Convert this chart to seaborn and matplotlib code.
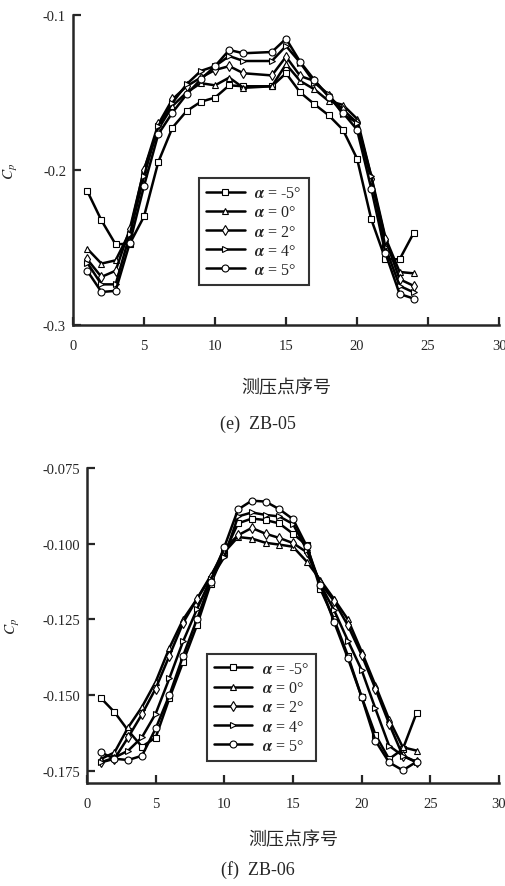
import numpy as np
import pandas as pd
import matplotlib
matplotlib.use('Agg')
import matplotlib.pyplot as plt
import seaborn as sns

# measurement points (point 13 has no reading on ZB-05)
x_top = [1, 2, 3, 4, 5, 6, 7, 8, 9, 10, 11, 12, 14, 15, 16, 17, 18, 19, 20, 21, 22, 23, 24]
x_bot = list(range(1, 25))

alpha_labels = [r'$\boldsymbol{\alpha}$ = -5°', r'$\boldsymbol{\alpha}$ = 0°', r'$\boldsymbol{\alpha}$ = 2°',
                r'$\boldsymbol{\alpha}$ = 4°', r'$\boldsymbol{\alpha}$ = 5°']
markers = ['s', '^', 'd', '>', 'o']

# (e) ZB-05
cp_e_m5 = [-0.2135, -0.2325, -0.248, -0.2475, -0.230, -0.195, -0.1727, -0.162, -0.156, -0.1533, -0.1454, -0.146,
           -0.146, -0.1376, -0.150, -0.1576, -0.1647, -0.174, -0.1927, -0.2318, -0.2576, -0.2576, -0.2404]
cp_e_0 = [-0.2508, -0.2604, -0.2583, -0.240, -0.1996, -0.1738, -0.1587, -0.150, -0.144, -0.1454, -0.1404, -0.147,
          -0.146, -0.1318, -0.1426, -0.148, -0.1555, -0.158, -0.167, -0.204, -0.2437, -0.2658, -0.2667]
cp_e_2 = [-0.2576, -0.269, -0.265, -0.238, -0.200, -0.1705, -0.1544, -0.146, -0.1404, -0.1355, -0.133, -0.1376,
          -0.139, -0.1269, -0.1394, -0.1426, -0.1523, -0.161, -0.1695, -0.206, -0.2447, -0.2705, -0.2748]
cp_e_4 = [-0.2598, -0.2738, -0.2738, -0.2415, -0.204, -0.1716, -0.1566, -0.1447, -0.1361, -0.133, -0.1265, -0.1297,
          -0.1297, -0.120, -0.1308, -0.1437, -0.1512, -0.164, -0.1695, -0.204, -0.250, -0.2748, -0.279]
cp_e_5 = [-0.265, -0.2787, -0.278, -0.247, -0.2103, -0.177, -0.163, -0.1512, -0.1415, -0.133, -0.1226, -0.1247,
          -0.1239, -0.1153, -0.1303, -0.142, -0.1527, -0.163, -0.174, -0.212, -0.2538, -0.280, -0.283]

# (f) ZB-06
cp_f_m5 = [-0.1509, -0.1556, -0.1617, -0.167, -0.164, -0.151, -0.139, -0.127, -0.1133, -0.103, -0.0933, -0.0917,
           -0.0922, -0.0933, -0.0967, -0.1005, -0.115, -0.125, -0.137, -0.1506, -0.163, -0.1711, -0.1678, -0.1559]
cp_f_0 = [-0.1711, -0.1689, -0.1606, -0.1539, -0.1456, -0.1344, -0.125, -0.1183, -0.1106, -0.1028, -0.0978, -0.0983,
          -0.0997, -0.1003, -0.101, -0.1059, -0.112, -0.1183, -0.125, -0.1356, -0.1467, -0.158, -0.1672, -0.1683]
cp_f_2 = [-0.1722, -0.171, -0.1639, -0.1563, -0.1478, -0.137, -0.1261, -0.1183, -0.1111, -0.1017, -0.0972, -0.0948,
          -0.0967, -0.0981, -0.0998, -0.1028, -0.113, -0.119, -0.127, -0.1367, -0.1478, -0.1594, -0.170, -0.1722]
cp_f_4 = [-0.1722, -0.1706, -0.1683, -0.1639, -0.1561, -0.1444, -0.1322, -0.1217, -0.1117, -0.1044, -0.091, -0.0897,
          -0.0905, -0.091, -0.0935, -0.102, -0.1135, -0.122, -0.132, -0.1417, -0.1544, -0.1667, -0.170, -0.172]
cp_f_5 = [-0.1689, -0.171, -0.1714, -0.170, -0.161, -0.150, -0.137, -0.125, -0.1125, -0.1011, -0.0887, -0.0858,
          -0.0861, -0.0886, -0.0919, -0.1008, -0.1137, -0.1259, -0.1378, -0.1506, -0.165, -0.1722, -0.1748, -0.172]

x_ticks = [0, 5, 10, 15, 20, 25, 30]
y_ticks_e = [-0.3, -0.2, -0.1]
y_ticks_f = [-0.175, -0.150, -0.125, -0.100, -0.075]
xlabel = '测压点序号'
ylabel = r'$C_p$'
captions = ['(e)  ZB-05', '(f)  ZB-06']

sns.set_style('ticks')
plt.rcParams['font.family'] = ['Liberation Serif', 'Noto Sans CJK SC']
plt.rcParams['mathtext.fontset'] = 'stix'
plt.rcParams['font.size'] = 10

fig = plt.figure(figsize=(5.06, 8.87), dpi=100)
ax_e = fig.add_axes([0.1443, 0.6325, 0.842, 0.3495])
ax_f = fig.add_axes([0.172, 0.1161, 0.814, 0.3552])


def draw_panel(ax, xs, series, yticks, ylim, ylabfmt, leg_anchor, ylab_x, xlab_y):
    for vals, m, lab in zip(series, markers, alpha_labels):
        sns.lineplot(x=xs, y=vals, ax=ax, color='black', linewidth=1.8, marker=m,
                     markersize=5, markerfacecolor='white', markeredgecolor='black',
                     markeredgewidth=0.8, label=lab, sort=False)
    ax.set_xlim(0, 30)
    ax.set_ylim(*ylim)
    ax.set_xticks(x_ticks)
    ax.set_yticks(yticks)
    ax.set_yticklabels([ylabfmt.format(v) for v in yticks])
    sns.despine(ax=ax)
    for sp in ['left', 'bottom']:
        ax.spines[sp].set_linewidth(1.8)
    ax.tick_params(direction='in', length=6, width=1.6, labelsize=10.5)
    ax.tick_params(axis='x', pad=10)
    ax.tick_params(axis='y', pad=5)
    ax.set_xlabel(xlabel, fontsize=13)
    ax.set_ylabel(ylabel, fontsize=11)
    ax.xaxis.set_label_coords(0.5, xlab_y)
    ax.yaxis.set_label_coords(ylab_x, 0.5)
    leg = ax.legend(loc='upper left', bbox_to_anchor=leg_anchor, frameon=True, fancybox=False,
                    edgecolor='black', fontsize=11.5, handlelength=2.4, labelspacing=0.2,
                    borderpad=0.45, handletextpad=0.6, borderaxespad=0)
    leg.get_frame().set_linewidth(1.5)


draw_panel(ax_e, x_top, [cp_e_m5, cp_e_0, cp_e_2, cp_e_4, cp_e_5], y_ticks_e, (-0.3, -0.1),
           '{:.1f}', (0.296, 0.474), -0.124, -0.174)
draw_panel(ax_f, x_bot, [cp_f_m5, cp_f_0, cp_f_2, cp_f_4, cp_f_5], y_ticks_f, (-0.179, -0.075),
           '{:.3f}', (0.291, 0.41), -0.158, -0.152)

fig.text(0.51, 0.522, captions[0], ha='center', va='center', fontsize=13)
fig.text(0.51, 0.019, captions[1], ha='center', va='center', fontsize=13)

fig.savefig('out.png', dpi=100)
